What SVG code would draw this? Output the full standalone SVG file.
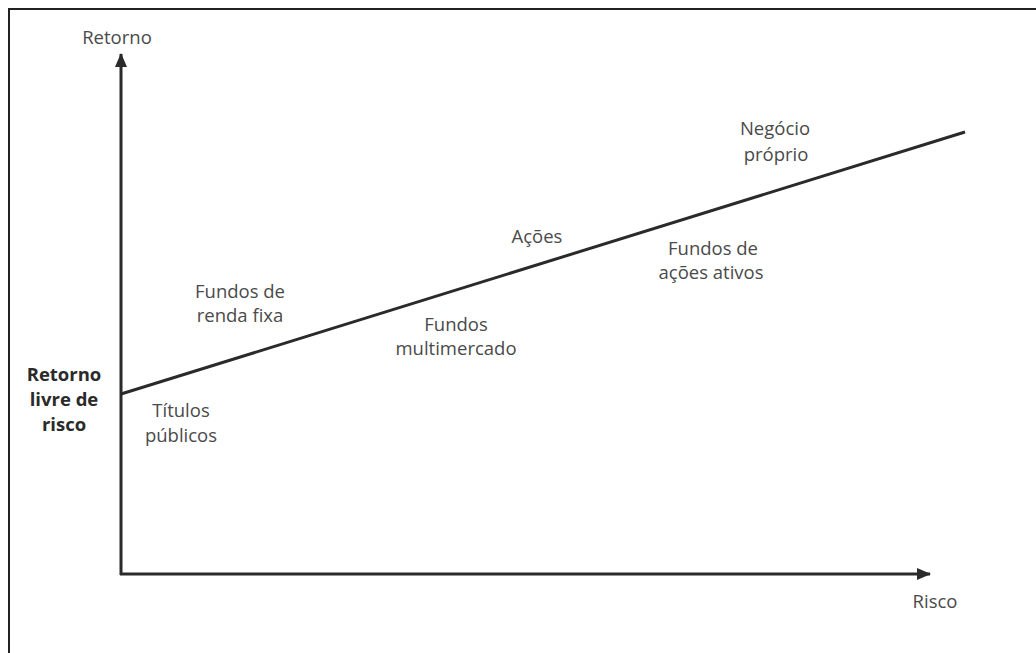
<svg xmlns="http://www.w3.org/2000/svg" width="1036" height="653" viewBox="0 0 1036 653">
<style>
.lbl{font-family:"Open Sans","Noto Sans","Liberation Sans",sans-serif;font-size:18.5px;fill:#4a4a4a;text-anchor:middle}
.bold{font-weight:bold;fill:#2a2a2a}
.ax{stroke:#2a2a2a;stroke-width:3;fill:none}
</style>
<defs>
<marker id="arr" viewBox="0 0 14 12" refX="13" refY="6" markerWidth="14" markerHeight="12" markerUnits="userSpaceOnUse" orient="auto">
<path d="M0,0 L14,6 L0,12 z" fill="#2a2a2a"/>
</marker>
</defs>
<rect x="0" y="0" width="1036" height="653" fill="#ffffff"/>
<g id="frame">
<path d="M9,653 L9,9 L1036,9" fill="none" stroke="#222" stroke-width="2"/>
</g>
<g id="connectors">
<line class="ax" x1="121" y1="575" x2="121" y2="54" marker-end="url(#arr)"/>
<line class="ax" x1="120" y1="574" x2="930" y2="574" marker-end="url(#arr)"/>
<line class="ax" x1="121" y1="394" x2="965" y2="132"/>
</g>
<g id="retorno-axis"><text class="lbl" x="117" y="44">Retorno</text></g>
<g id="risco-axis"><text class="lbl" x="935" y="608">Risco</text></g>
<g id="retorno-livre"><text class="lbl bold" x="64" y="381">Retorno</text><text class="lbl bold" x="64" y="406">livre de</text><text class="lbl bold" x="64" y="431">risco</text></g>
<g id="titulos"><text class="lbl" x="181" y="417">Títulos</text><text class="lbl" x="181" y="442">públicos</text></g>
<g id="renda-fixa"><text class="lbl" x="240" y="298">Fundos de</text><text class="lbl" x="240" y="322">renda fixa</text></g>
<g id="multimercado"><text class="lbl" x="456" y="331">Fundos</text><text class="lbl" x="456" y="355">multimercado</text></g>
<g id="acoes"><text class="lbl" x="537" y="243">Ações</text></g>
<g id="acoes-ativos"><text class="lbl" x="713" y="255">Fundos de</text><text class="lbl" x="711" y="279">ações ativos</text></g>
<g id="negocio"><text class="lbl" x="775" y="135">Negócio</text><text class="lbl" x="776" y="161">próprio</text></g>
</svg>
